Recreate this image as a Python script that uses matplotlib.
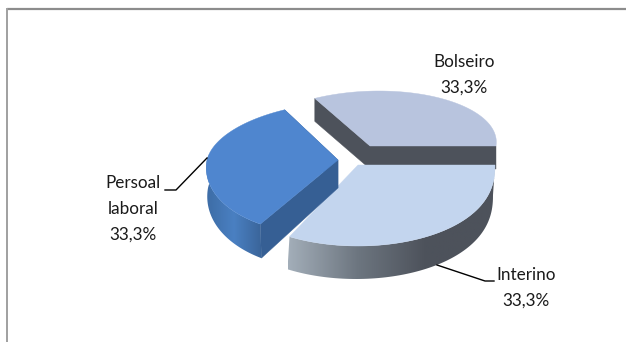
import numpy as np
import matplotlib
matplotlib.use("Agg")
import matplotlib.pyplot as plt
from matplotlib.patches import Polygon
from matplotlib.colors import LinearSegmentedColormap

categories = ["Bolseiro", "Interino", "Persoal\nlaboral"]
values = [1, 1, 1]
pct_labels = ["33,3%", "33,3%", "33,3%"]

plt.rcParams['font.family'] = ['Lato', 'DejaVu Sans']
fig = plt.figure(figsize=(6.26, 3.42), dpi=100)
ax = fig.add_axes([0, 0, 1, 1])
ax.set_xlim(0, 626)
ax.set_ylim(342, 0)
ax.axis("off")

# frame
ax.plot([7, 626], [9, 9], color="#8c8c8c", lw=1.6, solid_capstyle="butt")
ax.plot([7, 7], [342, 8], color="#a0a0a0", lw=1.4, solid_capstyle="butt")

# slice angular spans from the values, clockwise from 120 degrees
total = sum(values)
spans = []
start = 120.0
for v in values:
    end = start - 360 * v / total
    spans.append((start, end))
    start = end

# per-slice projection
geom = [
    dict(cx=370, cy=146, rx=126, up=55, down=55, k=9, t=23, s=0, d=0, p=1.0),
    dict(cx=358, cy=165, rx=137, up=81, down=81, k=0, t=30, s=3, d=-2, p=0.85),
    dict(cx=338, cy=160, rx=131, up=58, down=74, k=14, t=28, s=7, d=1, p=1.0),
]
top_col = ["#B8C4DE", "#C3D5EE", "#4F86CF"]
cut_col = ["#4D525B", "#4D525B", "#365F94"]


def pt(g, deg):
    a = np.radians(deg)
    s, c = np.sin(a), np.cos(a)
    ry = g["up"] if s > 0 else g["down"]
    return g["cx"] + g["rx"] * c + g["k"] * s, g["cy"] - ry * np.sign(s) * abs(s) ** g["p"]


def drop(g, deg):
    return g["d"], g["t"] - g["s"] * np.sin(np.radians(deg))


def arc(g, a0, a1, n=80):
    return np.array([pt(g, x) for x in np.linspace(a0, a1, n)])


def side_poly(g, a0, a1):
    up = arc(g, a0, a1)
    lo = []
    for x, (px, py) in zip(np.linspace(a0, a1, 80), up):
        dx, dy = drop(g, x)
        lo.append((px + dx, py + dy))
    return np.vstack([up, np.array(lo)[::-1]])


def gradient(poly, stops, x0, x1, z):
    cmap = LinearSegmentedColormap.from_list("g", stops)
    im = ax.imshow(np.linspace(0, 1, 256)[None, :], cmap=cmap, aspect="auto",
                   extent=[x0, x1, poly[:, 1].max(), poly[:, 1].min()], zorder=z,
                   interpolation="bilinear")
    p = Polygon(poly, closed=True, transform=ax.transData, fc="none", ec="none")
    ax.add_patch(p)
    im.set_clip_path(p)
    ax.set_xlim(0, 626)
    ax.set_ylim(342, 0)


def cut(g, deg, col, z):
    px, py = pt(g, deg)
    dx, dy = drop(g, deg)
    ax.add_patch(Polygon([(g["cx"], g["cy"]), (px, py), (px + dx, py + dy),
                          (g["cx"], g["cy"] + g["t"])],
                         fc=col, ec=col, lw=.3, zorder=z))


def top(g, a0, a1, col, z):
    pts = np.vstack([[(g["cx"], g["cy"])], arc(g, a0, a1)])
    ax.add_patch(Polygon(pts, fc=col, ec=col, lw=.3, zorder=z))


# Bolseiro
g = geom[0]
a0, a1 = spans[0]
cut(g, a0, cut_col[0], 1)
cut(g, a1, cut_col[0], 1)
top(g, a0, a1, top_col[0], 1.5)

# Interino
g = geom[1]
a0, a1 = spans[1]
gradient(side_poly(g, a0, a1), ["#A3AEB9", "#6D7680", "#4D525B", "#4D525B"], 288, 495, 2)
top(g, a0, a1, top_col[1], 3)

# Persoal laboral: a0 = -120 (bottom tip), a1 = -240 (top tip)
g = geom[2]
a0, a1 = spans[2]
cut(g, a1, cut_col[2], 3.5)
cut(g, a0, cut_col[2], 4.5)
poly = side_poly(g, -185, a0)
gradient(poly, ["#3D6CA5", "#4A80C2", "#3A6499"], poly[:, 0].min(), poly[:, 0].max(), 4)
top(g, a0, a1, top_col[2], 5)

# Leaders
ax.plot([207, 176, 165], [158, 190, 190], color="black", lw=1, zorder=6)
ax.plot([437, 485, 494], [265, 281, 281], color="black", lw=1, zorder=6)

# Labels
fs = 12.3
tc = "#1a1a1a"
ax.text(464, 62, categories[0], ha="center", va="center", fontsize=fs, color=tc)
ax.text(464, 88, pct_labels[0], ha="center", va="center", fontsize=fs, color=tc)
ax.text(526, 275, categories[1], ha="center", va="center", fontsize=fs, color=tc)
ax.text(526, 301, pct_labels[1], ha="center", va="center", fontsize=fs, color=tc)
l1, l2 = categories[2].split("\n")
ax.text(133, 183, l1, ha="center", va="center", fontsize=fs, color=tc)
ax.text(133, 209, l2, ha="center", va="center", fontsize=fs, color=tc)
ax.text(133, 235, pct_labels[2], ha="center", va="center", fontsize=fs, color=tc)

fig.savefig("out.png", dpi=100, facecolor="white")
